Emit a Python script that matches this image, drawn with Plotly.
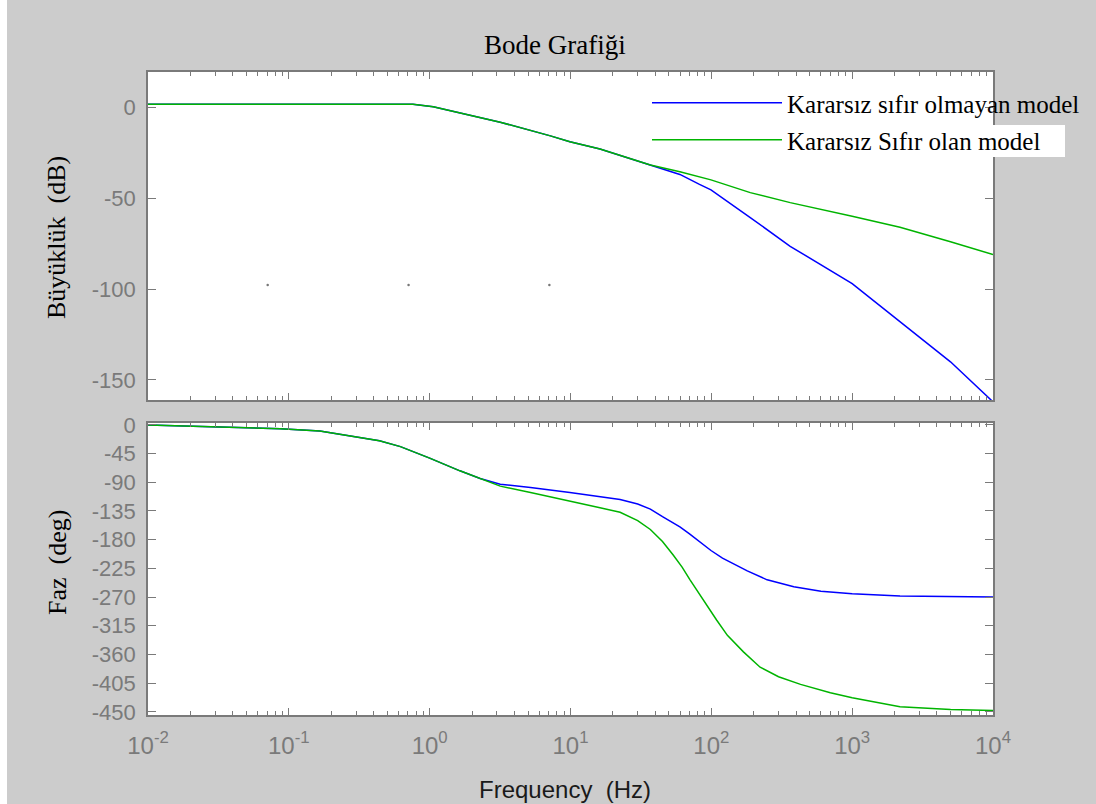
import plotly.graph_objects as go

# ---------------- data ----------------
freq_mag = [0.01, 0.1, 0.5, 0.76, 1.06, 1.39, 1.94, 3.17, 7.2, 9.9, 16.2,
            36.9, 59.8, 82.4, 99.4, 189, 363, 1000, 2186, 4990, 10000]
mag_blue = [1.6, 1.6, 1.6, 1.6, 0.2, -2.0, -4.4, -8.3, -15.8, -19.0, -23.0,
            -32.0, -37.0, -42.5, -45.5, -60.7, -76.5, -97.0, -118.0, -140.0, -162.0]
mag_green = [1.6, 1.6, 1.6, 1.6, 0.2, -2.0, -4.4, -8.3, -15.8, -19.0, -23.0,
             -31.8, -35.5, -38.4, -40.0, -47.0, -52.5, -60.0, -66.0, -74.0, -81.0]

freq_ph_blue = [0.01, 0.035, 0.087, 0.166, 0.27, 0.44, 0.62, 1.0, 1.64, 2.28, 3.17,
                5.2, 9.9, 16.2, 22.5, 30, 36.9, 45, 59.8, 70, 82.4, 99.4, 120, 143,
                180, 249, 385, 600, 1000, 2186, 5000, 10000]
ph_blue = [0, -3, -6, -9.5, -17, -25, -34, -52, -72, -84, -93,
           -98, -106, -113, -117, -124, -132, -144, -160, -171, -183, -197, -209, -218,
           -229, -243, -254, -261, -265, -268.5, -269.5, -270]

freq_ph_green = [0.01, 0.035, 0.087, 0.166, 0.27, 0.44, 0.62, 1.0, 1.64, 2.28, 3.17,
                 5.2, 9.9, 16.2, 22.5, 30, 36.9, 45, 53.6, 62, 70.6, 82, 94.8, 109, 130,
                 169, 222, 300, 430, 700, 1000, 2186, 5000, 10000]
ph_green = [0, -3, -6, -9.5, -17, -25, -34, -52, -72, -84, -96,
            -106, -119, -130, -137, -150, -164, -183, -204, -223, -243, -265, -285, -306, -330,
            -356, -380, -395, -407, -420, -428, -442, -446.5, -448]

dots_x = [0.0708, 0.708, 7.08]
dots_y = [-97.8, -97.8, -97.8]

series_names = ["Kararsız sıfır olmayan model", "Kararsız Sıfır olan model"]
title_text = "Bode Grafiği"
mag_label = "Büyüklük  (dB)"
ph_label = "Faz  (deg)"
x_label = "Frequency  (Hz)"

x_tick_exp = [-2, -1, 0, 1, 2, 3, 4]
mag_ticks = [0, -50, -100, -150]
ph_ticks = [0, -45, -90, -135, -180, -225, -270, -315, -360, -405, -450]

# ---------------- figure ----------------
W, H = 1096, 804
BLUE = "#0000ff"
GREEN = "#00b400"
AXC = "#7a7a7a"
TICKC = "#7a7a7a"
SANS = "Liberation Sans"
SERIF = "Liberation Serif"

fig = go.Figure()
fig.add_trace(go.Scatter(x=freq_mag, y=mag_blue, mode="lines", name=series_names[0],
                         line=dict(color=BLUE, width=1.5), xaxis="x", yaxis="y",
                         legend="legend"))
fig.add_trace(go.Scatter(x=freq_mag, y=mag_green, mode="lines", name=series_names[1],
                         line=dict(color=GREEN, width=1.5), xaxis="x", yaxis="y",
                         legend="legend2"))
fig.add_trace(go.Scatter(x=dots_x, y=dots_y, mode="markers", showlegend=False,
                         marker=dict(color="#777777", size=2.5), xaxis="x", yaxis="y",
                         hoverinfo="skip"))
fig.add_trace(go.Scatter(x=freq_ph_blue, y=ph_blue, mode="lines", showlegend=False,
                         line=dict(color=BLUE, width=1.5), xaxis="x2", yaxis="y2"))
fig.add_trace(go.Scatter(x=freq_ph_green, y=ph_green, mode="lines", showlegend=False,
                         line=dict(color=GREEN, width=1.5), xaxis="x2", yaxis="y2"))

minor_vals = [k * 10 ** e for e in range(-2, 4) for k in range(2, 10)]
xdom = [148 / W, 993 / W]

xcommon = dict(type="log", range=[-2, 4], domain=xdom, showgrid=False, zeroline=False,
               automargin=False,
               showline=True, linecolor=AXC, linewidth=1.5, mirror="allticks",
               ticks="inside", ticklen=7, tickwidth=1.2, tickcolor=AXC,
               tickvals=[10 ** e for e in x_tick_exp],
               ticktext=["10<sup>%d</sup>" % e for e in x_tick_exp],
               minor=dict(tickvals=minor_vals, ticks="inside", ticklen=4,
                          tickwidth=1.2, tickcolor=AXC, showgrid=False),
               tickfont=dict(family=SANS, size=24, color=TICKC))
ycommon = dict(showgrid=False, zeroline=False, showline=True, linecolor=AXC,
               automargin=False,
               linewidth=1.5, mirror="allticks", ticks="inside", ticklen=8,
               tickwidth=1.2, tickcolor=AXC, ticklabelstandoff=6,
               tickfont=dict(family=SANS, size=22, color=TICKC))

fig.update_layout(
    width=W, height=H,
    margin=dict(l=0, r=0, t=0, b=0, autoexpand=False),
    paper_bgcolor="#cccccc", plot_bgcolor="#ffffff",
    xaxis=dict(xcommon, anchor="y", showticklabels=False),
    yaxis=dict(ycommon, domain=[1 - 400 / H, 1 - 72 / H], range=[-161, 19.3],
               tickvals=mag_ticks, ticktext=[str(v) for v in mag_ticks], anchor="x"),
    xaxis2=dict(xcommon, anchor="y2", ticklabelstandoff=8),
    yaxis2=dict(ycommon, domain=[1 - 715 / H, 1 - 423 / H], range=[-455, 3],
                tickvals=ph_ticks, ticktext=[str(v) for v in ph_ticks], anchor="x2"),
    legend=dict(x=647 / W, y=1 - 103 / H, xanchor="left", yanchor="middle",
                bgcolor="rgba(0,0,0,0)", borderwidth=0, itemwidth=130,
                font=dict(family=SERIF, size=25, color="#000000")),
    legend2=dict(x=647 / W, y=1 - 140 / H, xanchor="left", yanchor="middle",
                 bgcolor="rgba(0,0,0,0)", borderwidth=0, itemwidth=130,
                 font=dict(family=SERIF, size=25, color="#000000")),
    shapes=[
        dict(type="rect", xref="paper", yref="paper", x0=0, x1=7 / W, y0=0, y1=1,
             fillcolor="#ffffff", line=dict(width=0), layer="below"),
        dict(type="rect", xref="paper", yref="paper", x0=992 / W, x1=1065 / W,
             y0=1 - 157 / H, y1=1 - 125 / H,
             fillcolor="#ffffff", line=dict(width=0), layer="above"),
    ],
    annotations=[
        dict(text=title_text, x=555 / W, y=1 - 45 / H, xref="paper", yref="paper",
             showarrow=False, xanchor="center", yanchor="middle",
             font=dict(family=SERIF, size=27, color="#000000")),
        dict(text=mag_label, x=57 / W, y=1 - 238 / H, xref="paper", yref="paper",
             showarrow=False, textangle=-90, xanchor="center", yanchor="middle",
             font=dict(family=SERIF, size=26, color="#000000")),
        dict(text=ph_label, x=57 / W, y=1 - 563 / H, xref="paper", yref="paper",
             showarrow=False, textangle=-90, xanchor="center", yanchor="middle",
             font=dict(family=SERIF, size=26, color="#000000")),
        dict(text=x_label, x=565 / W, y=1 - 789 / H, xref="paper", yref="paper",
             showarrow=False, xanchor="center", yanchor="middle",
             font=dict(family=SANS, size=24, color="#1a1a1a")),
    ],
)

fig.write_html("out.html")
